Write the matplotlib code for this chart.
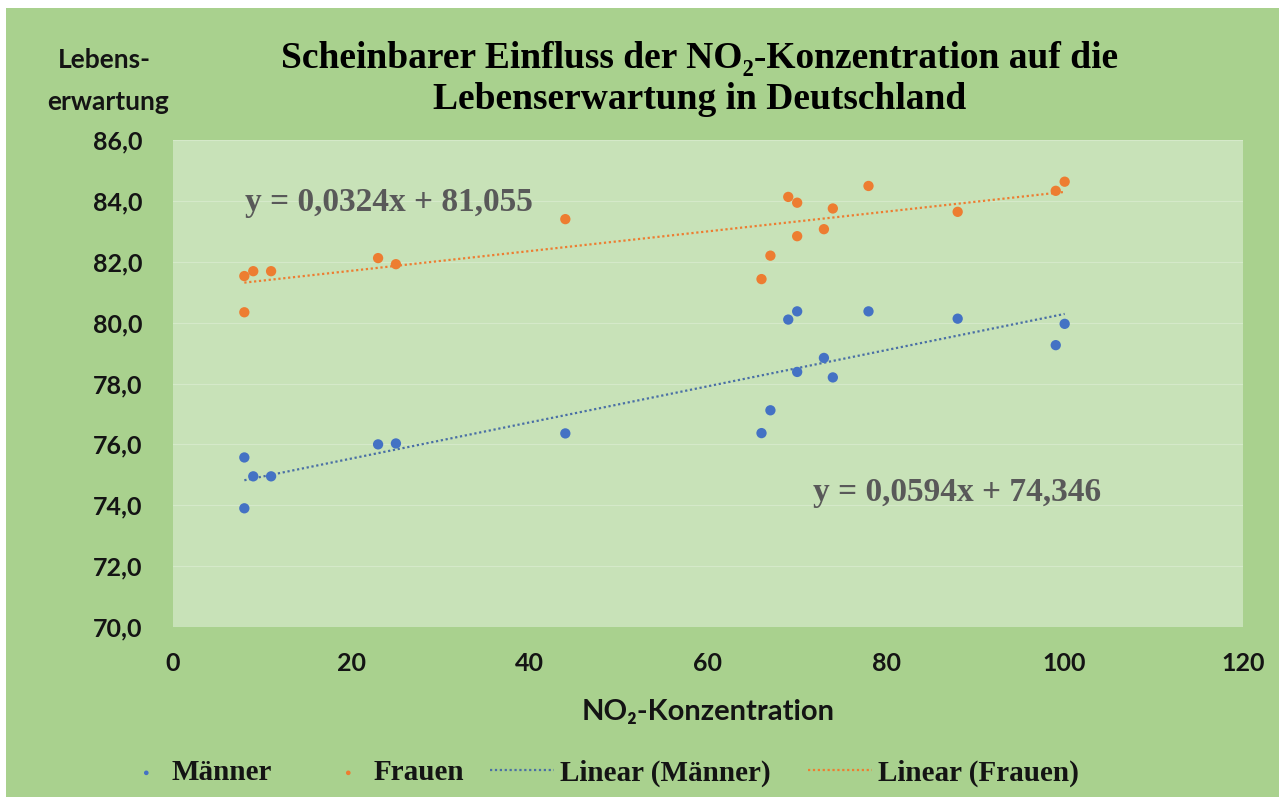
import numpy as np
import matplotlib.pyplot as plt
from matplotlib.patches import Rectangle
from matplotlib.ticker import FuncFormatter

# ---------------------------------------------------------------- data

no2 = [8, 8, 9, 11, 23, 25, 44, 66, 67, 69, 70, 70, 73, 74, 78, 88, 99, 100]
maenner = [75.57, 73.90, 74.95, 74.95, 76.00, 76.03, 76.36, 76.37, 77.12,
           80.10, 80.37, 78.38, 78.84, 78.20, 80.37, 80.13, 79.26, 79.96]
frauen = [81.53, 80.34, 81.69, 81.69, 82.12, 81.92, 83.40, 81.43, 82.20,
          84.13, 83.94, 82.84, 83.07, 83.75, 84.49, 83.64, 84.33, 84.63]

# trendline coefficients as printed in the chart (slope, intercept)
fit_maenner = (0.0594, 74.346)
fit_frauen = (0.0324, 81.055)

x_ticks = [0, 20, 40, 60, 80, 100, 120]
y_ticks = [70, 72, 74, 76, 78, 80, 82, 84, 86]

# ---------------------------------------------------------------- style

W, H = 1285, 801
BLUE = "#4472C4"
ORANGE = "#ED7D31"
BG = "#A9D18E"
PLOT_BG = "#C8E2B8"
INK = "#141414"
SANS = ["Lato", "DejaVu Sans"]
SERIF = ["Liberation Serif", "DejaVu Serif"]


def fx(px):
    return px / W


def fy(py):
    return 1 - py / H


fig = plt.figure(figsize=(W / 100, H / 100), dpi=100, facecolor="white")
fig.patches.append(Rectangle((fx(6), fy(797)), fx(1279) - fx(6), fy(8) - fy(797),
                             transform=fig.transFigure, facecolor=BG,
                             edgecolor="none", zorder=-5))

ax = fig.add_axes([fx(173), fy(627), fx(1243) - fx(173), fy(140) - fy(627)])
ax.set_zorder(1)
ax.set_facecolor(PLOT_BG)
for s in ax.spines.values():
    s.set_visible(False)

ax.set_xlim(0, 120)
ax.set_ylim(70, 86)
ax.set_xticks(x_ticks)
ax.set_yticks(y_ticks)
ax.yaxis.set_major_formatter(FuncFormatter(lambda v, _: f"{v:.1f}".replace(".", ",")))
ax.tick_params(length=0, labelsize=18, labelcolor=INK)
ax.tick_params(axis="y", pad=22)
ax.tick_params(axis="x", pad=18)
for lab in ax.get_xticklabels() + ax.get_yticklabels():
    lab.set_family(SANS)
    lab.set_fontweight("bold")
ax.grid(axis="y", color="white", alpha=0.25, linewidth=0.8)
ax.set_axisbelow(True)

h_m = ax.scatter(no2, maenner, s=55, color=BLUE, edgecolors="none", zorder=3)
h_f = ax.scatter(no2, frauen, s=55, color=ORANGE, edgecolors="none", zorder=3)

xr = np.array([min(no2), max(no2)])
(h_lm,) = ax.plot(xr, fit_maenner[0] * xr + fit_maenner[1], color="#4A6FA5", lw=1.6,
                  linestyle=(0, (1, 1.2)), zorder=2)
(h_lf,) = ax.plot(xr, fit_frauen[0] * xr + fit_frauen[1], color=ORANGE, lw=1.6,
                  linestyle=(0, (1, 1.2)), zorder=2)

eq_kw = dict(family=SERIF, fontweight="bold", fontsize=24, color="#595959",
             transform=fig.transFigure, va="center", zorder=5)
fig.text(fx(245), fy(203), "y = 0,0324x + 81,055", ha="left", **eq_kw)
fig.text(fx(813), fy(493), "y = 0,0594x + 74,346", ha="left", **eq_kw)

# titles and axis labels
fig.text(fx(700), fy(79), "Scheinbarer Einfluss der NO₂-Konzentration auf die\n"
         "Lebenserwartung in Deutschland", ha="center", va="center",
         family=SERIF, fontweight="bold", fontsize=27, linespacing=1.2)
fig.text(fx(104), fy(60), "Lebens-", ha="center", va="center",
         family=SANS, fontweight="bold", fontsize=19, color=INK)
fig.text(fx(108), fy(102), "erwartung", ha="center", va="center",
         family=SANS, fontweight="bold", fontsize=19, color=INK)
fig.text(fx(708), fy(712), "NO₂-Konzentration", ha="center", va="center",
         family=SANS, fontweight="bold", fontsize=21, color=INK)

# legend: one small legend per entry so each sits where Excel put it
legend_items = [
    (h_m, "Männer", 139, 0.5, 0.6),
    (h_f, "Frauen", 341, 0.5, 0.6),
    (h_lm, "Linear (Männer)", 490, 2.2, 0.2),
    (h_lf, "Linear (Frauen)", 808, 2.2, 0.2),
]
for handle, text, x0, hl, pad in legend_items:
    leg = fig.legend([handle], [text], loc="center left",
                     bbox_to_anchor=(fx(x0), fy(773)), frameon=False,
                     borderpad=0, borderaxespad=0, handlelength=hl,
                     handletextpad=pad, markerscale=0.45,
                     prop=dict(family=SERIF, weight="bold", size=21))
    for t in leg.get_texts():
        t.set_color(INK)

fig.savefig("out.png", dpi=100, facecolor="white")
